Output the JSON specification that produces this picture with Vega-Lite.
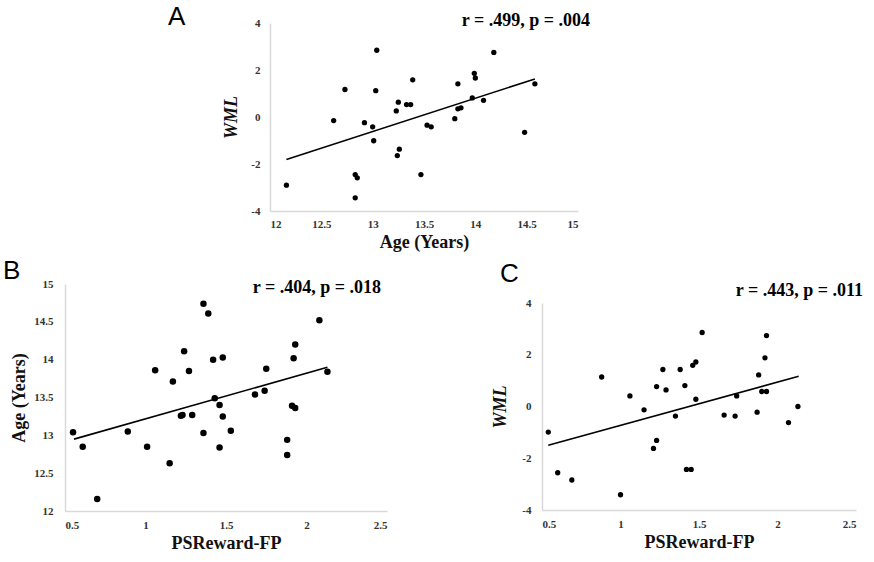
{
  "$schema": "https://vega.github.io/schema/vega-lite/v6.json",
  "padding": {"left": 3, "top": 4, "right": 5, "bottom": 2},
  "background": "white",
  "config": {
    "view": {"stroke": null},
    "axis": {
      "domainColor": "#d9d9d9",
      "domainWidth": 1.5,
      "ticks": false,
      "grid": false,
      "labelOverlap": false,
      "format": "~g",
      "labelExpr": "replace(datum.label, '\u2212', '-')",
      "labelFont": "Liberation Serif",
      "labelFontWeight": "bold",
      "labelFontSize": 11,
      "labelColor": "#333333",
      "titleFont": "Liberation Serif",
      "titleFontWeight": "bold",
      "titleFontSize": 18,
      "titleColor": "#111111"
    }
  },
  "datasets": {
    "A": [
      {"age": 12.16, "wm": -2.90}, {"age": 12.62, "wm": -0.15}, {"age": 12.73, "wm": 1.17},
      {"age": 12.83, "wm": -2.45}, {"age": 12.85, "wm": -2.59}, {"age": 12.83, "wm": -3.44},
      {"age": 12.92, "wm": -0.24}, {"age": 13.00, "wm": -0.42}, {"age": 13.01, "wm": -1.01},
      {"age": 13.03, "wm": 1.12}, {"age": 13.04, "wm": 2.84}, {"age": 13.23, "wm": 0.26},
      {"age": 13.25, "wm": 0.63}, {"age": 13.24, "wm": -1.64}, {"age": 13.26, "wm": -1.37},
      {"age": 13.33, "wm": 0.53}, {"age": 13.37, "wm": 0.53}, {"age": 13.39, "wm": 1.58},
      {"age": 13.47, "wm": -2.45}, {"age": 13.53, "wm": -0.35}, {"age": 13.57, "wm": -0.42},
      {"age": 13.80, "wm": -0.07}, {"age": 13.83, "wm": 1.41}, {"age": 13.83, "wm": 0.35},
      {"age": 13.86, "wm": 0.39}, {"age": 13.97, "wm": 0.81}, {"age": 13.99, "wm": 1.86},
      {"age": 14.00, "wm": 1.66}, {"age": 14.08, "wm": 0.71}, {"age": 14.18, "wm": 2.75},
      {"age": 14.48, "wm": -0.65}, {"age": 14.58, "wm": 1.41}
    ],
    "lineA": [{"age": 12.16, "wm": -1.81}, {"age": 14.58, "wm": 1.62}],
    "B": [
      {"ps": 0.55, "age": 13.04}, {"ps": 0.61, "age": 12.85}, {"ps": 0.70, "age": 12.16},
      {"ps": 0.89, "age": 13.05}, {"ps": 1.01, "age": 12.85}, {"ps": 1.06, "age": 13.86},
      {"ps": 1.15, "age": 12.63}, {"ps": 1.17, "age": 13.71}, {"ps": 1.22, "age": 13.26},
      {"ps": 1.23, "age": 13.27}, {"ps": 1.24, "age": 14.11}, {"ps": 1.27, "age": 13.85},
      {"ps": 1.29, "age": 13.27}, {"ps": 1.36, "age": 13.03}, {"ps": 1.36, "age": 14.74},
      {"ps": 1.39, "age": 14.61}, {"ps": 1.42, "age": 14.00}, {"ps": 1.43, "age": 13.49},
      {"ps": 1.46, "age": 13.40}, {"ps": 1.46, "age": 12.84}, {"ps": 1.48, "age": 14.03},
      {"ps": 1.48, "age": 13.25}, {"ps": 1.53, "age": 13.06}, {"ps": 1.68, "age": 13.54},
      {"ps": 1.74, "age": 13.59}, {"ps": 1.75, "age": 13.88}, {"ps": 1.88, "age": 12.94},
      {"ps": 1.88, "age": 12.74}, {"ps": 1.91, "age": 13.39}, {"ps": 1.92, "age": 14.02},
      {"ps": 1.93, "age": 13.36}, {"ps": 1.93, "age": 14.20}, {"ps": 2.08, "age": 14.52},
      {"ps": 2.13, "age": 13.84}
    ],
    "lineB": [{"ps": 0.556, "age": 12.95}, {"ps": 2.13, "age": 13.90}],
    "C": [
      {"ps": 0.54, "wm": -0.99}, {"ps": 0.60, "wm": -2.56}, {"ps": 0.69, "wm": -2.84},
      {"ps": 0.88, "wm": 1.14}, {"ps": 1.00, "wm": -3.41}, {"ps": 1.06, "wm": 0.41},
      {"ps": 1.15, "wm": -0.13}, {"ps": 1.21, "wm": -1.62}, {"ps": 1.23, "wm": -1.31},
      {"ps": 1.23, "wm": 0.77}, {"ps": 1.27, "wm": 1.43}, {"ps": 1.29, "wm": 0.64},
      {"ps": 1.35, "wm": -0.37}, {"ps": 1.38, "wm": 1.43}, {"ps": 1.41, "wm": 0.81},
      {"ps": 1.42, "wm": -2.43}, {"ps": 1.45, "wm": -2.43}, {"ps": 1.46, "wm": 1.59},
      {"ps": 1.48, "wm": 1.72}, {"ps": 1.48, "wm": 0.28}, {"ps": 1.52, "wm": 2.86},
      {"ps": 1.66, "wm": -0.33}, {"ps": 1.73, "wm": -0.37}, {"ps": 1.74, "wm": 0.41},
      {"ps": 1.87, "wm": -0.22}, {"ps": 1.88, "wm": 1.22}, {"ps": 1.90, "wm": 0.58},
      {"ps": 1.93, "wm": 0.58}, {"ps": 1.92, "wm": 1.88}, {"ps": 1.93, "wm": 2.74},
      {"ps": 2.07, "wm": -0.62}, {"ps": 2.13, "wm": 0.00}
    ],
    "lineC": [{"ps": 0.54, "wm": -1.50}, {"ps": 2.135, "wm": 1.17}]
  },
  "spacing": 7,
  "vconcat": [
    {
      "spacing": 14,
      "hconcat": [
        {"width": 89, "height": 10, "data": {"values": []}, "mark": "point", "encoding": {}},
        {
          "width": 308,
          "height": 188,
          "layer": [
            {"data": {"name": "A"}, "mark": {"type": "circle", "size": 28, "color": "black", "opacity": 1},
             "encoding": {
              "x": {"field": "age", "type": "quantitative", "scale": {"domain": [12, 15], "nice": false, "zero": false},
                    "axis": {"values": [12, 12.5, 13, 13.5, 14, 14.5, 15], "title": "Age (Years)", "labelPadding": 7, "titlePadding": 4}},
              "y": {"field": "wm", "type": "quantitative", "scale": {"domain": [-4, 4], "nice": false},
                    "axis": {"values": [-4, -2, 0, 2, 4], "title": "WML", "titleFontStyle": "italic", "labelPadding": 10, "titlePadding": 10}}
             }},
            {"data": {"name": "lineA"}, "mark": {"type": "line", "color": "black", "strokeWidth": 1.6},
             "encoding": {
              "x": {"field": "age", "type": "quantitative", "axis": {"values": [12, 12.5, 13, 13.5, 14, 14.5, 15], "title": "Age (Years)", "labelPadding": 7, "titlePadding": 4}},
              "y": {"field": "wm", "type": "quantitative", "axis": {"values": [-4, -2, 0, 2, 4], "title": "WML", "titleFontStyle": "italic", "labelPadding": 10, "titlePadding": 10}}}},
            {"data": {"values": [{"label": "r = .499, p = .004"}]},
             "mark": {"type": "text", "align": "right", "baseline": "middle", "font": "Liberation Serif", "fontWeight": "bold", "fontSize": 18, "dx": 12, "dy": -2, "clip": false, "color": "black"},
             "encoding": {
              "x": {"datum": 15, "type": "quantitative", "axis": {"values": [12, 12.5, 13, 13.5, 14, 14.5, 15], "title": "Age (Years)", "labelPadding": 7, "titlePadding": 4}},
              "y": {"datum": 4, "type": "quantitative", "axis": {"values": [-4, -2, 0, 2, 4], "title": "WML", "titleFontStyle": "italic", "labelPadding": 10, "titlePadding": 10}},
              "text": {"field": "label"}}},
            {"data": {"values": [{"label": "A"}]},
             "mark": {"type": "text", "align": "left", "baseline": "middle", "font": "Liberation Sans", "fontSize": 26, "dx": -102, "dy": -6, "clip": false, "color": "black"},
             "encoding": {
              "x": {"datum": 12, "type": "quantitative", "axis": {"values": [12, 12.5, 13, 13.5, 14, 14.5, 15], "title": "Age (Years)", "labelPadding": 7, "titlePadding": 4}},
              "y": {"datum": 4, "type": "quantitative", "axis": {"values": [-4, -2, 0, 2, 4], "title": "WML", "titleFontStyle": "italic", "labelPadding": 10, "titlePadding": 10}},
              "text": {"field": "label"}}}
          ]
        }
      ]
    },
    {
      "spacing": 104,
      "hconcat": [
        {
          "width": 322,
          "height": 227,
          "layer": [
            {"data": {"name": "B"}, "mark": {"type": "circle", "size": 42, "color": "black", "opacity": 1},
             "encoding": {
              "x": {"field": "ps", "type": "quantitative", "scale": {"domain": [0.5, 2.5], "nice": false, "zero": false},
                    "axis": {"values": [0.5, 1, 1.5, 2, 2.5], "title": "PSReward-FP", "labelPadding": 8, "titlePadding": 4}},
              "y": {"field": "age", "type": "quantitative", "scale": {"domain": [12, 15], "nice": false, "zero": false},
                    "axis": {"values": [12, 12.5, 13, 13.5, 14, 14.5, 15], "title": "Age (Years)", "labelPadding": 12, "titlePadding": 5}}
             }},
            {"data": {"name": "lineB"}, "mark": {"type": "line", "color": "black", "strokeWidth": 1.6},
             "encoding": {
              "x": {"field": "ps", "type": "quantitative", "axis": {"values": [0.5, 1, 1.5, 2, 2.5], "title": "PSReward-FP", "labelPadding": 8, "titlePadding": 4}},
              "y": {"field": "age", "type": "quantitative", "axis": {"values": [12, 12.5, 13, 13.5, 14, 14.5, 15], "title": "Age (Years)", "labelPadding": 12, "titlePadding": 5}}}},
            {"data": {"values": [{"label": "r = .404, p = .018"}]},
             "mark": {"type": "text", "align": "right", "baseline": "middle", "font": "Liberation Serif", "fontWeight": "bold", "fontSize": 18, "dx": -6, "dy": 4, "clip": false, "color": "black"},
             "encoding": {
              "x": {"datum": 2.5, "type": "quantitative", "axis": {"values": [0.5, 1, 1.5, 2, 2.5], "title": "PSReward-FP", "labelPadding": 8, "titlePadding": 4}},
              "y": {"datum": 15, "type": "quantitative", "axis": {"values": [12, 12.5, 13, 13.5, 14, 14.5, 15], "title": "Age (Years)", "labelPadding": 12, "titlePadding": 5}},
              "text": {"field": "label"}}},
            {"data": {"values": [{"label": "B"}]},
             "mark": {"type": "text", "align": "left", "baseline": "middle", "font": "Liberation Sans", "fontSize": 26, "dx": -62, "dy": -13, "clip": false, "color": "black"},
             "encoding": {
              "x": {"datum": 0.5, "type": "quantitative", "axis": {"values": [0.5, 1, 1.5, 2, 2.5], "title": "PSReward-FP", "labelPadding": 8, "titlePadding": 4}},
              "y": {"datum": 15, "type": "quantitative", "axis": {"values": [12, 12.5, 13, 13.5, 14, 14.5, 15], "title": "Age (Years)", "labelPadding": 12, "titlePadding": 5}},
              "text": {"field": "label"}}}
          ]
        },
        {
          "spacing": -24,
          "vconcat": [
            {"width": 10, "height": 1, "data": {"values": []}, "mark": "point", "encoding": {}},
            {
              "width": 314,
              "height": 207,
              "layer": [
                {"data": {"name": "C"}, "mark": {"type": "circle", "size": 28, "color": "black", "opacity": 1},
                 "encoding": {
                  "x": {"field": "ps", "type": "quantitative", "scale": {"domain": [0.5, 2.5], "nice": false, "zero": false},
                        "axis": {"values": [0.5, 1, 1.5, 2, 2.5], "title": "PSReward-FP", "labelPadding": 8, "titlePadding": 4}},
                  "y": {"field": "wm", "type": "quantitative", "scale": {"domain": [-4, 4], "nice": false},
                        "axis": {"values": [-4, -2, 0, 2, 4], "title": "WML", "titleFontStyle": "italic", "labelPadding": 11, "titlePadding": 12}}
                 }},
                {"data": {"name": "lineC"}, "mark": {"type": "line", "color": "black", "strokeWidth": 1.6},
                 "encoding": {
                  "x": {"field": "ps", "type": "quantitative", "axis": {"values": [0.5, 1, 1.5, 2, 2.5], "title": "PSReward-FP", "labelPadding": 8, "titlePadding": 4}},
                  "y": {"field": "wm", "type": "quantitative", "axis": {"values": [-4, -2, 0, 2, 4], "title": "WML", "titleFontStyle": "italic", "labelPadding": 11, "titlePadding": 12}}}},
                {"data": {"values": [{"label": "r = .443, p = .011"}]},
                 "mark": {"type": "text", "align": "right", "baseline": "middle", "font": "Liberation Serif", "fontWeight": "bold", "fontSize": 18, "dx": 7, "dy": -12, "clip": false, "color": "black"},
                 "encoding": {
                  "x": {"datum": 2.5, "type": "quantitative", "axis": {"values": [0.5, 1, 1.5, 2, 2.5], "title": "PSReward-FP", "labelPadding": 8, "titlePadding": 4}},
                  "y": {"datum": 4, "type": "quantitative", "axis": {"values": [-4, -2, 0, 2, 4], "title": "WML", "titleFontStyle": "italic", "labelPadding": 11, "titlePadding": 12}},
                  "text": {"field": "label"}}},
                {"data": {"values": [{"label": "C"}]},
                 "mark": {"type": "text", "align": "left", "baseline": "middle", "font": "Liberation Sans", "fontSize": 26, "dx": -42, "dy": -29, "clip": false, "color": "black"},
                 "encoding": {
                  "x": {"datum": 0.5, "type": "quantitative", "axis": {"values": [0.5, 1, 1.5, 2, 2.5], "title": "PSReward-FP", "labelPadding": 8, "titlePadding": 4}},
                  "y": {"datum": 4, "type": "quantitative", "axis": {"values": [-4, -2, 0, 2, 4], "title": "WML", "titleFontStyle": "italic", "labelPadding": 11, "titlePadding": 12}},
                  "text": {"field": "label"}}}
              ]
            }
          ]
        }
      ]
    }
  ]
}
